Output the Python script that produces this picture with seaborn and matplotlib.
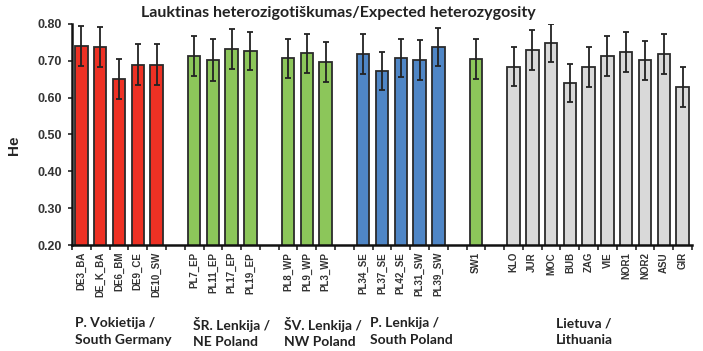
import matplotlib
matplotlib.use("Agg")
import matplotlib.pyplot as plt
import seaborn as sns
import pandas as pd
import numpy as np
from matplotlib.ticker import FixedLocator, FormatStrFormatter

# ---- data ----
populations = ["DE3_BA", "DE_K_BA", "DE6_BM", "DE9_CE", "DE10_SW",
               "PL7_EP", "PL11_EP", "PL17_EP", "PL19_EP",
               "PL8_WP", "PL9_WP", "PL3_WP",
               "PL34_SE", "PL37_SE", "PL42_SE", "PL31_SW", "PL39_SW",
               "SW1",
               "KLO", "JUR", "MOC", "BUB", "ZAG", "VIE", "NOR1", "NOR2", "ASU", "GIR"]
he_values = [0.741, 0.737, 0.651, 0.690, 0.690,
             0.714, 0.702, 0.732, 0.727,
             0.707, 0.720, 0.696,
             0.718, 0.673, 0.707, 0.702, 0.737,
             0.705,
             0.684, 0.729, 0.748, 0.639, 0.684, 0.714, 0.725, 0.702, 0.718, 0.630]
he_errors = [0.054, 0.054, 0.055, 0.055, 0.055,
             0.054, 0.056, 0.054, 0.052,
             0.053, 0.052, 0.054,
             0.055, 0.052, 0.052, 0.055, 0.052,
             0.054,
             0.053, 0.055, 0.051, 0.052, 0.054, 0.054, 0.054, 0.053, 0.054, 0.054]
color_groups = ["red"] * 5 + ["green"] * 4 + ["green"] * 3 + ["blue"] * 5 + ["green"] + ["grey"] * 10
# slot order including empty gap slots
slot_order = (populations[0:5] + ["gap1"] + populations[5:9] + ["gap2"] + populations[9:12] +
              ["gap3"] + populations[12:17] + ["gap4"] + populations[17:18] + ["gap5"] + populations[18:])
region_labels = ["P. Vokietija /\nSouth Germany", "ŠR. Lenkija /\nNE Poland",
                 "ŠV. Lenkija /\nNW Poland", "P. Lenkija /\nSouth Poland",
                 "Lietuva /\nLithuania"]
title = "Lauktinas heterozigotiškumas/Expected heterozygosity"

palette = {"red": "#ee3124", "green": "#8cc65a", "blue": "#4f86c6", "grey": "#d9d9d9"}

df = pd.DataFrame({"pop": populations, "he": he_values, "err": he_errors, "grp": color_groups})

sns.set_style("white")
plt.rcParams["font.family"] = ["Liberation Sans", "DejaVu Sans"]

fig = plt.figure(figsize=(7.03, 3.51), dpi=100)
ax = fig.add_axes([72 / 703, 1 - 245 / 351, 620 / 703, 221 / 351])

sns.barplot(data=df, x="pop", y="he", hue="grp", palette=palette, order=slot_order,
            dodge=False, width=0.66, edgecolor="#2b2b2b", linewidth=1.3, legend=False,
            errorbar=None, saturation=1, ax=ax)

xpos = [slot_order.index(p) for p in populations]
ax.errorbar(xpos, df["he"], yerr=df["err"], fmt="none", ecolor="#222222",
            elinewidth=1.3, capsize=2.2, capthick=1.3, zorder=5)

ax.set_ylim(0.2, 0.8)
ax.set_xlim(-0.5, len(slot_order) - 0.5)
ax.yaxis.set_major_locator(FixedLocator(np.arange(0.2, 0.81, 0.1)))
ax.yaxis.set_major_formatter(FormatStrFormatter("%.2f"))
ax.tick_params(axis="y", direction="out", length=3, width=1.2, labelsize=9,
               labelcolor="#333333", left=True, pad=4)
for t in ax.get_yticklabels():
    t.set_fontweight("bold")

ax.set_xticks(range(len(slot_order)))
ax.set_xticklabels([s if not s.startswith("gap") else "" for s in slot_order],
                   rotation=90, fontsize=7, fontweight="bold", color="#333333")
ax.tick_params(axis="x", which="major", length=0, pad=5)
ax.set_xticks(np.arange(-0.5, len(slot_order), 1.0), minor=True)
ax.tick_params(axis="x", which="minor", direction="out", length=3.5, width=1.2, bottom=True)

for side in ["top", "right"]:
    ax.spines[side].set_visible(False)
for side in ["left", "bottom"]:
    ax.spines[side].set_color("#111111")
    ax.spines[side].set_linewidth(1.8)

ax.set_xlabel("")
ax.set_ylabel("He", fontsize=11, fontweight="bold")
ax.yaxis.set_label_coords(-0.082, 0.45)

fig.text(338 / 703, 1 - 13 / 351, title, ha="center", va="center",
         fontsize=11.5, fontweight="bold", color="#222222", family=["Lato", "DejaVu Sans"])

region_x = [75, 193, 284, 370, 556]
for x, lab in zip(region_x, region_labels):
    fig.text(x / 703, 1 - 317 / 351, lab, ha="left", va="top", fontsize=10,
             fontweight="bold", color="#222222", linespacing=1.45,
             family=["Lato", "DejaVu Sans"])

fig.savefig("out.png", dpi=100)
